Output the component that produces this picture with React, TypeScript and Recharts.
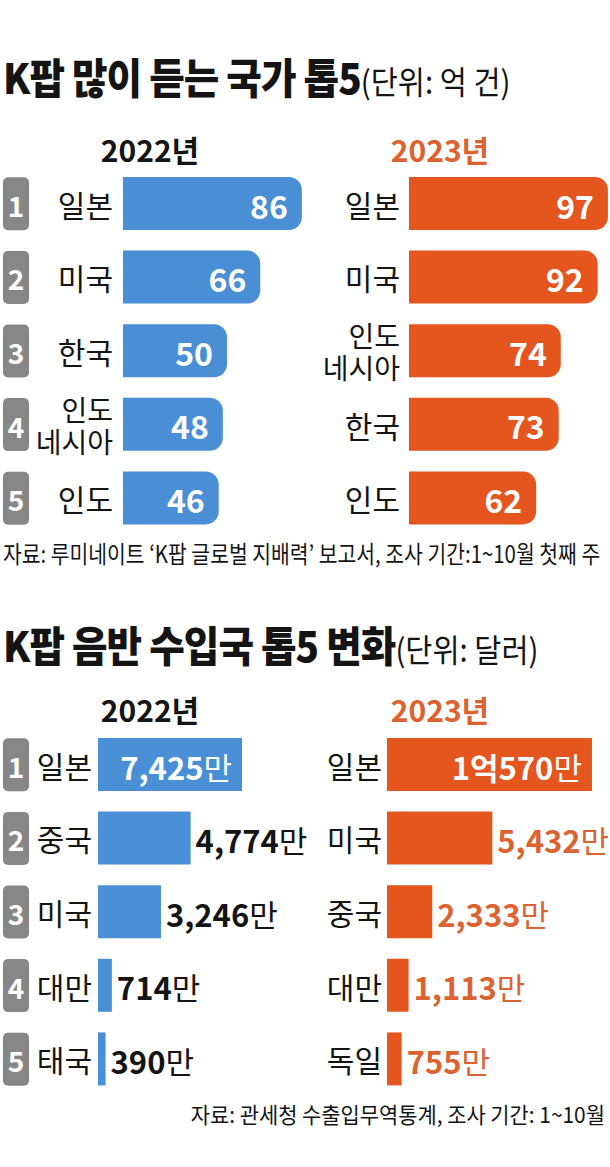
import { Bar, BarChart, LabelList, XAxis, YAxis } from "recharts";

const BLUE = "#4a8fd6";
const ORANGE = "#e5561f";
const ORANGE_TEXT = "#dc6330";
const BADGE = "#878787";
const INK = "#141414";
const FONT = '"Noto Sans CJK KR", "Noto Sans", sans-serif';

// K팝 많이 듣는 국가 (억 건)
const streamCountries2022 = ["일본", "미국", "한국", "인도네시아", "인도"];
const streams2022 = [86, 66, 50, 48, 46];
const streamCountries2023 = ["일본", "미국", "인도네시아", "한국", "인도"];
const streams2023 = [97, 92, 74, 73, 62];

// K팝 음반 수입국 (만 달러)
const albumCountries2022 = ["일본", "중국", "미국", "대만", "태국"];
const albums2022 = [7425, 4774, 3246, 714, 390];
const albumCountries2023 = ["일본", "미국", "중국", "대만", "독일"];
const albums2023 = [10570, 5432, 2333, 1113, 755];

const ranks = ["1", "2", "3", "4", "5"];

const toRows = (names: string[], values: number[]) =>
  names.map((country, i) => ({ country, value: values[i] }));

function formatMan(v: number) {
  if (v >= 10000) return { num: `${Math.floor(v / 10000)}억${v % 10000}`, unit: "만" };
  return { num: v.toLocaleString("en-US"), unit: "만" };
}

function CountryTick(props: any) {
  const { y, payload, badge, labelRight } = props;
  const i = props.index ?? payload?.index ?? 0;
  const name: string = payload.value;
  // long names wrap onto two lines: 인도 / 네시아
  const lines = name.length > 4 ? [name.slice(0, 2), name.slice(2)] : [name];
  const size = lines.length > 1 ? 28 : 30;
  return (
    <g>
      {badge && (
        <>
          <rect x={3} y={y - 26.5} width={26} height={53} rx={5} fill={BADGE} />
          <text
            x={16}
            y={y + 1}
            textAnchor="middle"
            dominantBaseline="central"
            fill="#fff"
            fontSize={28}
            fontWeight={700}
            fontFamily={FONT}
          >
            {ranks[i]}
          </text>
        </>
      )}
      <text
        x={labelRight}
        y={y - ((lines.length - 1) / 2) * 32}
        textAnchor="end"
        dominantBaseline="central"
        fill={INK}
        fontSize={size}
        fontFamily={FONT}
      >
        {lines.map((line, k) => (
          <tspan key={k} x={labelRight} dy={k === 0 ? 0 : 32}>
            {line}
          </tspan>
        ))}
      </text>
    </g>
  );
}

function InsideValue(props: any) {
  const { x, y, width, height, value } = props;
  return (
    <text
      x={x + width - 14}
      y={y + height / 2 + 1}
      textAnchor="end"
      dominantBaseline="central"
      fill="#fff"
      fontSize={32}
      fontWeight={700}
      fontFamily={FONT}
    >
      {value}
    </text>
  );
}

function AlbumValue(props: any) {
  const { x, y, width, height, value, index, color } = props;
  const { num, unit } = formatMan(value);
  const inside = index === 0;
  return (
    <text
      x={inside ? x + width - 10 : x + width + 5}
      y={y + height / 2 + 1}
      textAnchor={inside ? "end" : "start"}
      dominantBaseline="central"
      fill={inside ? "#fff" : color}
      fontSize={31}
      fontFamily={FONT}
    >
      <tspan fontWeight={700}>{num}</tspan>
      <tspan fontWeight={400}>{unit}</tspan>
    </text>
  );
}

type ChartProps = {
  names: string[];
  values: number[];
  color: string;
  textColor?: string;
  left: number;
  top: number;
  axisWidth: number;
  width: number;
  max: number;
  badge: boolean;
  labelRight: number;
  rounded?: boolean;
};

function RankChart({
  names,
  values,
  color,
  textColor = INK,
  left,
  top,
  axisWidth,
  width,
  max,
  badge,
  labelRight,
  rounded,
}: ChartProps) {
  return (
    <div style={{ position: "absolute", left, top }}>
      <BarChart
        width={width}
        height={368}
        layout="vertical"
        data={toRows(names, values)}
        margin={{ top: 0, right: 0, bottom: 0, left: 0 }}
      >
        <XAxis type="number" hide domain={[0, max]} />
        <YAxis
          type="category"
          dataKey="country"
          width={axisWidth}
          axisLine={false}
          tickLine={false}
          interval={0}
          tick={(p: any) => <CountryTick {...p} badge={badge} labelRight={labelRight} />}
        />
        <Bar
          dataKey="value"
          fill={color}
          barSize={53}
          radius={rounded ? [0, 13, 13, 0] : 0}
          isAnimationActive={false}
        >
          <LabelList
            dataKey="value"
            content={(p: any) =>
              rounded ? <InsideValue {...p} /> : <AlbumValue {...p} color={textColor} />
            }
          />
        </Bar>
      </BarChart>
    </div>
  );
}

const abs = (style: React.CSSProperties): React.CSSProperties => ({
  position: "absolute",
  whiteSpace: "nowrap",
  lineHeight: 1,
  ...style,
});

function Title({ main, unit, top }: { main: string; unit: string; top: number }) {
  return (
    <div style={abs({ left: 3, top, transform: "scaleX(0.92)", transformOrigin: "left top" })}>
      <span style={{ fontSize: 42, fontWeight: 900, letterSpacing: -1 }}>{main}</span>
      <span style={{ fontSize: 32 }}>{unit}</span>
    </div>
  );
}

function YearHeads({ top }: { top: number }) {
  return (
    <>
      <div style={abs({ left: 150, top, fontSize: 30, fontWeight: 700, transform: "translateX(-50%)" })}>
        2022년
      </div>
      <div
        style={abs({ left: 440, top, fontSize: 30, fontWeight: 700, color: ORANGE_TEXT, transform: "translateX(-50%)" })}
      >
        2023년
      </div>
    </>
  );
}

export default function App() {
  return (
    <div
      style={{
        position: "absolute",
        left: 0,
        top: 0,
        width: 610,
        height: 1167,
        background: "#fff",
        fontFamily: FONT,
        color: INK,
        overflow: "hidden",
      }}
    >
      <Title main="K팝 많이 듣는 국가 톱5" unit="(단위: 억 건)" top={55} />
      <YearHeads top={134} />

      <RankChart
        names={streamCountries2022}
        values={streams2022}
        color={BLUE}
        left={0}
        top={167}
        axisWidth={123}
        width={331}
        max={100}
        badge
        labelRight={113}
        rounded
      />
      <RankChart
        names={streamCountries2023}
        values={streams2023}
        color={ORANGE}
        left={300}
        top={167}
        axisWidth={109}
        width={310}
        max={98}
        badge={false}
        labelRight={100}
        rounded
      />

      <div style={abs({ left: 3, top: 541, fontSize: 24, transform: "scaleX(0.85)", transformOrigin: "left top" })}>
        자료: 루미네이트 ‘K팝 글로벌 지배력’ 보고서, 조사 기간:1~10월 첫째 주
      </div>

      <Title main="K팝 음반 수입국 톱5 변화" unit="(단위: 달러)" top={623} />
      <YearHeads top={694} />

      <RankChart
        names={albumCountries2022}
        values={albums2022}
        color={BLUE}
        textColor={INK}
        left={0}
        top={728}
        axisWidth={98}
        width={389}
        max={15000}
        badge
        labelRight={92}
      />
      <RankChart
        names={albumCountries2023}
        values={albums2023}
        color={ORANGE}
        textColor={ORANGE_TEXT}
        left={300}
        top={728}
        axisWidth={87}
        width={310}
        max={11500}
        badge={false}
        labelRight={82}
      />

      <div
        style={abs({ right: 5, top: 1102, fontSize: 22, transform: "scaleX(0.95)", transformOrigin: "right top" })}
      >
        자료: 관세청 수출입무역통계, 조사 기간: 1~10월
      </div>
    </div>
  );
}
